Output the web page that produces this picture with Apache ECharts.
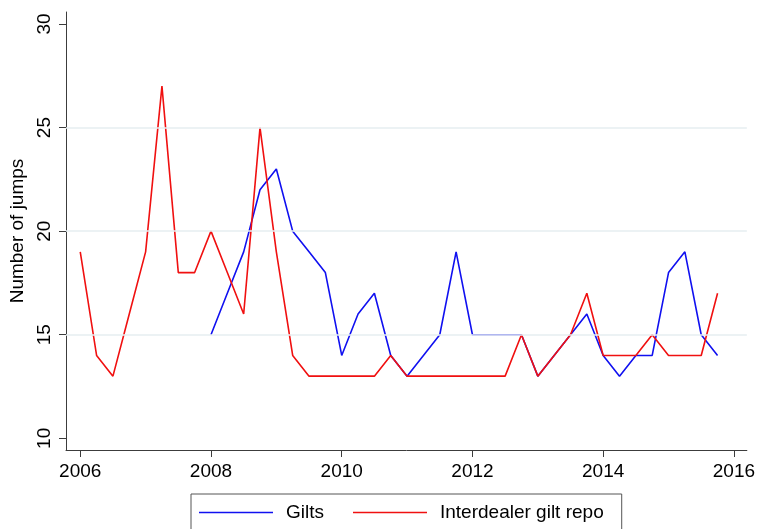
<!DOCTYPE html>
<html>
<head>
<meta charset="utf-8">
<script src="https://cdn.jsdelivr.net/npm/echarts@6/dist/echarts.min.js"></script>
<style>
  html, body { margin: 0; padding: 0; background: #ffffff; }
  #chart { width: 758px; height: 529px; }
</style>
</head>
<body>
<div id="chart"></div>
<script>
// Quarterly periods covered by the repo series
const quarters = [
  '2006q1','2006q2','2006q3','2006q4',
  '2007q1','2007q2','2007q3','2007q4',
  '2008q1','2008q2','2008q3','2008q4',
  '2009q1','2009q2','2009q3','2009q4',
  '2010q1','2010q2','2010q3','2010q4',
  '2011q1','2011q2','2011q3','2011q4',
  '2012q1','2012q2','2012q3','2012q4',
  '2013q1','2013q2','2013q3','2013q4',
  '2014q1','2014q2','2014q3','2014q4',
  '2015q1','2015q2','2015q3','2015q4'
];

// Number of jumps per quarter, interdealer gilt repo (2006q1 - 2015q4)
const repoValues = [
  19, 14, 13, 16,
  19, 27, 18, 18,
  20, 18, 16, 25,
  19, 14, 13, 13,
  13, 13, 13, 14,
  13, 13, 13, 13,
  13, 13, 13, 15,
  13, 14, 15, 17,
  14, 14, 14, 15,
  14, 14, 14, 17
];

// Number of jumps per quarter, gilts (2008q1 - 2015q4)
const giltsStart = '2008q1';
const giltsValues = [
  15, 17, 19, 22,
  23, 20, 19, 18,
  14, 16, 17, 14,
  13, 14, 15, 19,
  15, 15, 15, 15,
  13, 14, 15, 16,
  14, 13, 14, 14,
  18, 19, 15, 14
];

const xTicks = [2006, 2008, 2010, 2012, 2014, 2016];
const yTicks = [10, 15, 20, 25, 30];
const gridValues = [15, 20, 25];

// "2008q3" -> 2008.5
function quarterToYear(q) {
  const [y, n] = q.split('q').map(Number);
  return y + (n - 1) / 4;
}

const repoData = quarters.map((q, i) => [quarterToYear(q), repoValues[i]]);
const giltsOffset = quarters.indexOf(giltsStart);
const giltsData = giltsValues.map((v, i) => [quarterToYear(quarters[giltsOffset + i]), v]);

const FONT = 'Liberation Sans, Arial, sans-serif';
const AXIS_COLOR = '#3c3c3c';
const TEXT_SIZE = 19;
const BLUE = '#1010f0';
const RED = '#f01010';

const chart = echarts.init(document.getElementById('chart'), null, { renderer: 'canvas' });

chart.setOption({
  animation: false,
  backgroundColor: '#ffffff',
  grid: { left: 64, right: 10, top: 12, bottom: 79, containLabel: false },
  xAxis: {
    type: 'value',
    min: 2005.782,
    max: 2016.198,
    axisLine: { show: true, onZero: false, lineStyle: { color: AXIS_COLOR, width: 1 } },
    axisTick: { show: true, customValues: xTicks, length: 7, lineStyle: { color: AXIS_COLOR, width: 1 } },
    axisLabel: {
      customValues: xTicks,
      color: '#000000',
      fontFamily: FONT,
      fontSize: TEXT_SIZE,
      margin: 12,
      formatter: v => String(v)
    },
    splitLine: { show: false }
  },
  yAxis: {
    type: 'value',
    min: 9.436,
    max: 30.578,
    name: 'Number of jumps',
    nameLocation: 'middle',
    nameRotate: 90,
    nameGap: 39,
    nameTextStyle: { color: '#000000', fontFamily: FONT, fontSize: TEXT_SIZE },
    axisLine: { show: true, onZero: false, lineStyle: { color: AXIS_COLOR, width: 1 } },
    axisTick: { show: true, customValues: yTicks, length: 7, lineStyle: { color: AXIS_COLOR, width: 1 } },
    axisLabel: {
      customValues: yTicks,
      rotate: 90,
      color: '#000000',
      fontFamily: FONT,
      fontSize: TEXT_SIZE,
      margin: 12,
      formatter: v => String(v)
    },
    splitLine: { show: false }
  },
  legend: {
    left: 191,
    top: 494,
    orient: 'horizontal',
    padding: [9, 18, 20, 8],
    borderColor: '#555555',
    borderWidth: 1,
    icon: 'rect',
    itemWidth: 74,
    itemHeight: 1.6,
    itemGap: 29,
    textStyle: { color: '#000000', fontFamily: FONT, fontSize: TEXT_SIZE, padding: [0, 0, 0, 8] },
    data: ['Gilts', 'Interdealer gilt repo']
  },
  series: [
    {
      name: 'gridlines',
      type: 'line',
      data: [],
      silent: true,
      z: 1,
      markLine: {
        silent: true,
        symbol: 'none',
        label: { show: false },
        lineStyle: { color: '#e6eef1', width: 1.5, type: 'solid' },
        data: gridValues.map(v => ({ yAxis: v }))
      }
    },
    {
      name: 'Gilts',
      type: 'line',
      data: giltsData,
      symbol: 'none',
      z: 3,
      lineStyle: { color: BLUE, width: 1.6 },
      itemStyle: { color: BLUE }
    },
    {
      name: 'Interdealer gilt repo',
      type: 'line',
      data: repoData,
      symbol: 'none',
      z: 4,
      lineStyle: { color: RED, width: 1.6 },
      itemStyle: { color: RED }
    }
  ]
});
</script>
</body>
</html>
